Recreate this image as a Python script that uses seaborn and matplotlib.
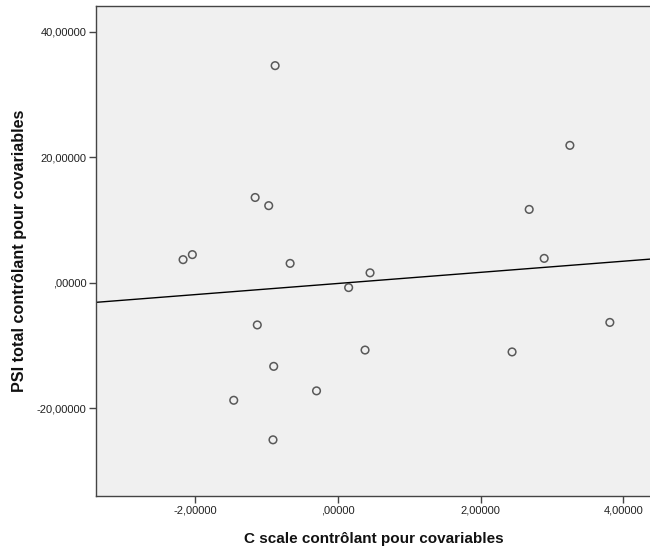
import matplotlib
matplotlib.use("Agg")
import matplotlib.pyplot as plt
import seaborn as sns
import pandas as pd

# Data
c_scale = [-0.88, -1.16, -0.97, -2.17, -2.04, -0.67, 0.45, 0.15, -1.13, 0.38,
           -0.90, -0.30, -1.46, -0.91, 3.25, 2.68, 2.89, 3.81, 2.44]
psi_total = [34.6, 13.6, 12.3, 3.7, 4.5, 3.1, 1.6, -0.75, -6.7, -10.7,
             -13.3, -17.2, -18.7, -25.0, 21.9, 11.7, 3.9, -6.3, -11.0]

x_ticks = [-2, 0, 2, 4]
x_tick_labels = ["-2,00000", ",00000", "2,00000", "4,00000"]
y_ticks = [-20, 0, 20, 40]
y_tick_labels = ["-20,00000", ",00000", "20,00000", "40,00000"]

x_title = "C scale contrôlant pour covariables"
y_title = "PSI total contrôlant pour covariables"

df = pd.DataFrame({"x": c_scale, "y": psi_total})

sns.set_style("white")
plt.rcParams["font.family"] = ["Liberation Sans", "DejaVu Sans"]

fig = plt.figure(figsize=(6.5, 5.52), dpi=100)
ax = fig.add_axes([96 / 650, 1 - 495.7 / 552, 1 - 96 / 650 + 0.003, (495.7 - 6) / 552])
ax.set_facecolor("#F0F0F0")

xlim = (-3.39, 4.40)
ylim = (-33.9, 44.1)
ax.set_xlim(*xlim)
ax.set_ylim(*ylim)

sns.regplot(data=df, x="x", y="y", ax=ax, ci=None, truncate=False,
            scatter_kws=dict(s=30, facecolors="none", edgecolors="#333333",
                             linewidths=1.1, zorder=3),
            line_kws=dict(color="black", linewidth=1.0, zorder=2))

ax.set_xlim(*xlim)
ax.set_ylim(*ylim)

for side in ["left", "bottom", "top", "right"]:
    ax.spines[side].set_color("#444444")
    ax.spines[side].set_linewidth(1.0)

ax.set_xticks(x_ticks)
ax.set_xticklabels(x_tick_labels)
ax.set_yticks(y_ticks)
ax.set_yticklabels(y_tick_labels)
ax.tick_params(axis="both", which="major", direction="out", length=5, width=1,
               color="#444444", labelsize=8, labelcolor="#222222", pad=2,
               bottom=True, left=True, top=False, right=False)

ax.set_xlabel(x_title, fontsize=11, fontweight="bold", labelpad=12, color="#111111")
ax.set_ylabel(y_title, fontsize=11.6, fontweight="bold", labelpad=7, color="#111111")

fig.savefig("out.png", dpi=100, facecolor="white")
